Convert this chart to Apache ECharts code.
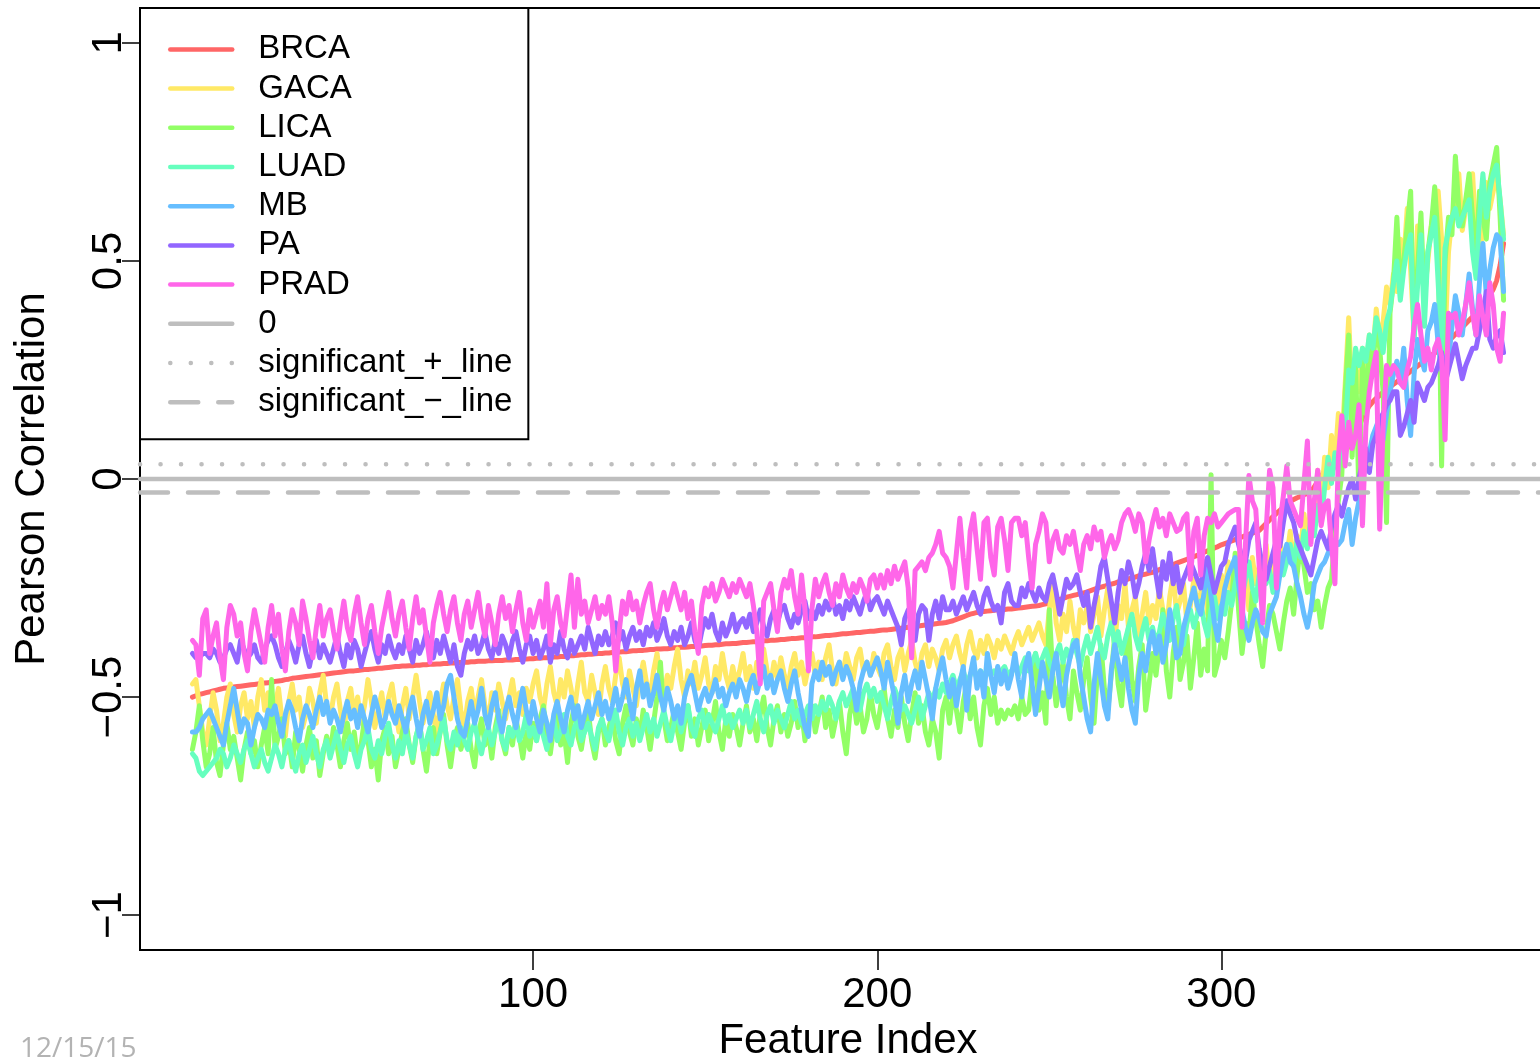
<!DOCTYPE html>
<html><head><meta charset="utf-8">
<script src="https://cdn.jsdelivr.net/npm/echarts@6/dist/echarts.min.js"></script>
<style>html,body{margin:0;padding:0;background:#fff}#c{width:1540px;height:1057px}</style>
</head><body><div id="c"></div>
<script>
const featureRange = [-14.24, 397.24];
const corrRange = [-1.08, 1.08];
const xTickValues = [100, 200, 300];
const yTickValues = [-1, -0.5, 0, 0.5, 1];
const cancerNames = ['BRCA', 'GACA', 'LICA', 'LUAD', 'MB', 'PA', 'PRAD'];
const cancerColors = ['#FF6666', '#FFE966', '#92FF66', '#66FFBE', '#66BEFF', '#9266FF', '#FF66E9'];
const refNames = ['0', 'significant_+_line', 'significant_\u2212_line'];
const refValues = [0, 0.034, -0.031];

const BRCA = [
-0.500,-0.497,-0.494,-0.492,-0.490,-0.488,-0.486,-0.484,-0.482,-0.480,-0.479,-0.478,-0.477,-0.476,-0.475,-0.474,-0.473,-0.472,-0.471,-0.470,
-0.469,-0.468,-0.467,-0.466,-0.464,-0.463,-0.462,-0.460,-0.459,-0.457,-0.456,-0.455,-0.454,-0.453,-0.452,-0.451,-0.450,-0.449,-0.448,-0.447,
-0.446,-0.445,-0.444,-0.443,-0.442,-0.441,-0.440,-0.440,-0.439,-0.438,-0.437,-0.437,-0.436,-0.435,-0.434,-0.434,-0.433,-0.432,-0.431,-0.430,
-0.430,-0.429,-0.429,-0.428,-0.428,-0.427,-0.427,-0.426,-0.426,-0.425,-0.425,-0.424,-0.424,-0.423,-0.423,-0.422,-0.422,-0.421,-0.421,-0.420,
-0.420,-0.419,-0.419,-0.418,-0.418,-0.418,-0.417,-0.417,-0.416,-0.416,-0.416,-0.415,-0.415,-0.415,-0.414,-0.414,-0.413,-0.413,-0.412,-0.412,
-0.411,-0.411,-0.410,-0.410,-0.409,-0.408,-0.408,-0.407,-0.407,-0.406,-0.405,-0.405,-0.404,-0.403,-0.403,-0.402,-0.402,-0.401,-0.400,-0.400,
-0.399,-0.399,-0.398,-0.397,-0.397,-0.396,-0.396,-0.395,-0.394,-0.394,-0.393,-0.393,-0.392,-0.391,-0.391,-0.390,-0.390,-0.389,-0.389,-0.388,
-0.387,-0.387,-0.386,-0.386,-0.385,-0.384,-0.384,-0.383,-0.383,-0.382,-0.381,-0.381,-0.380,-0.380,-0.379,-0.378,-0.378,-0.377,-0.377,-0.376,
-0.375,-0.375,-0.374,-0.373,-0.373,-0.372,-0.371,-0.371,-0.370,-0.370,-0.369,-0.368,-0.368,-0.367,-0.366,-0.366,-0.365,-0.364,-0.364,-0.363,
-0.362,-0.362,-0.361,-0.360,-0.359,-0.359,-0.358,-0.357,-0.356,-0.355,-0.355,-0.354,-0.353,-0.352,-0.352,-0.351,-0.350,-0.349,-0.349,-0.348,
-0.347,-0.346,-0.346,-0.345,-0.344,-0.343,-0.342,-0.341,-0.340,-0.339,-0.338,-0.337,-0.336,-0.335,-0.334,-0.333,-0.332,-0.331,-0.330,-0.329,
-0.327,-0.325,-0.322,-0.319,-0.316,-0.313,-0.310,-0.308,-0.306,-0.305,-0.304,-0.303,-0.302,-0.301,-0.300,-0.300,-0.299,-0.298,-0.298,-0.297,
-0.296,-0.295,-0.294,-0.293,-0.292,-0.291,-0.290,-0.288,-0.286,-0.284,-0.281,-0.279,-0.276,-0.274,-0.271,-0.269,-0.267,-0.265,-0.263,-0.261,
-0.259,-0.256,-0.253,-0.250,-0.248,-0.246,-0.243,-0.241,-0.239,-0.236,-0.234,-0.232,-0.229,-0.227,-0.225,-0.222,-0.220,-0.218,-0.216,-0.214,
-0.211,-0.208,-0.205,-0.202,-0.199,-0.196,-0.193,-0.190,-0.187,-0.184,-0.181,-0.178,-0.175,-0.172,-0.168,-0.165,-0.162,-0.158,-0.155,-0.151,
-0.148,-0.145,-0.142,-0.139,-0.136,-0.133,-0.130,-0.127,-0.124,-0.121,-0.118,-0.110,-0.102,-0.094,-0.086,-0.079,-0.072,-0.065,-0.058,-0.051,
-0.047,-0.043,-0.040,-0.036,-0.033,-0.030,-0.018,-0.006,0.006,0.018,0.028,0.036,0.042,0.050,0.058,0.066,0.074,0.085,0.100,0.120,
0.140,0.155,0.168,0.177,0.185,0.192,0.199,0.205,0.211,0.217,0.223,0.229,0.235,0.241,0.247,0.253,0.259,0.265,0.271,0.277,
0.283,0.289,0.295,0.301,0.308,0.316,0.324,0.332,0.340,0.348,0.356,0.364,0.372,0.381,0.390,0.400,0.410,0.421,0.435,0.455,0.490,0.540
];

const GACA = [
-0.47,-0.46,-0.52,-0.58,-0.61,-0.55,-0.49,-0.53,-0.60,-0.56,-0.50,-0.47,-0.54,-0.58,-0.52,-0.49,-0.55,-0.51,-0.57,-0.50,
-0.46,-0.53,-0.49,-0.56,-0.52,-0.48,-0.55,-0.59,-0.51,-0.47,-0.53,-0.50,-0.57,-0.54,-0.48,-0.51,-0.56,-0.49,-0.45,-0.52,
-0.55,-0.50,-0.47,-0.53,-0.58,-0.51,-0.48,-0.54,-0.50,-0.56,-0.52,-0.46,-0.51,-0.57,-0.53,-0.49,-0.55,-0.50,-0.47,-0.53,
-0.58,-0.52,-0.48,-0.55,-0.50,-0.45,-0.51,-0.56,-0.52,-0.49,-0.54,-0.59,-0.51,-0.47,-0.52,-0.55,-0.50,-0.46,-0.53,-0.57,
-0.51,-0.48,-0.54,-0.50,-0.46,-0.52,-0.56,-0.49,-0.53,-0.47,-0.51,-0.55,-0.50,-0.46,-0.52,-0.49,-0.54,-0.48,-0.51,-0.47,
-0.44,-0.50,-0.53,-0.47,-0.43,-0.49,-0.52,-0.46,-0.50,-0.44,-0.48,-0.53,-0.47,-0.42,-0.49,-0.51,-0.45,-0.49,-0.54,-0.47,
-0.43,-0.48,-0.51,-0.45,-0.41,-0.47,-0.50,-0.44,-0.48,-0.52,-0.46,-0.42,-0.47,-0.50,-0.44,-0.40,-0.46,-0.49,-0.45,-0.48,
-0.43,-0.39,-0.46,-0.50,-0.44,-0.47,-0.42,-0.48,-0.45,-0.41,-0.47,-0.49,-0.43,-0.46,-0.40,-0.45,-0.48,-0.43,-0.47,-0.44,
-0.40,-0.46,-0.43,-0.48,-0.42,-0.45,-0.39,-0.44,-0.47,-0.42,-0.46,-0.41,-0.45,-0.48,-0.43,-0.40,-0.45,-0.42,-0.47,-0.43,
-0.40,-0.45,-0.42,-0.46,-0.41,-0.38,-0.44,-0.47,-0.42,-0.45,-0.40,-0.43,-0.46,-0.41,-0.39,-0.44,-0.42,-0.45,-0.40,-0.43,
-0.45,-0.40,-0.38,-0.43,-0.46,-0.41,-0.39,-0.44,-0.40,-0.37,-0.42,-0.45,-0.40,-0.38,-0.43,-0.39,-0.41,-0.44,-0.39,-0.37,
-0.41,-0.38,-0.36,-0.40,-0.43,-0.38,-0.35,-0.39,-0.41,-0.37,-0.40,-0.36,-0.38,-0.41,-0.37,-0.39,-0.36,-0.38,-0.40,-0.37,
-0.35,-0.38,-0.36,-0.34,-0.37,-0.35,-0.33,-0.36,-0.38,-0.30,-0.24,-0.33,-0.37,-0.31,-0.35,-0.28,-0.34,-0.38,-0.30,-0.33,
-0.29,-0.35,-0.31,-0.27,-0.36,-0.30,-0.25,-0.33,-0.38,-0.29,-0.32,-0.24,-0.34,-0.30,-0.27,-0.36,-0.31,-0.26,-0.33,-0.29,
-0.32,-0.25,-0.30,-0.35,-0.27,-0.22,-0.31,-0.28,-0.24,-0.33,-0.29,-0.23,-0.30,-0.26,-0.21,-0.31,-0.27,-0.24,-0.30,-0.22,
-0.26,-0.19,-0.28,-0.23,-0.17,-0.27,-0.22,-0.30,-0.18,-0.24,-0.20,-0.27,-0.15,-0.23,-0.19,-0.26,-0.14,-0.21,-0.18,-0.12,
-0.20,-0.13,-0.17,-0.08,-0.15,-0.05,-0.11,0.02,-0.06,0.05,-0.02,0.10,0.04,0.15,0.08,0.22,0.37,0.18,0.25,0.20,
0.30,0.24,0.33,0.28,0.39,0.32,0.36,0.44,0.40,0.47,0.43,0.55,0.50,0.62,0.48,0.33,0.58,0.55,0.42,0.50,
0.58,0.63,0.66,0.55,0.32,0.52,0.60,0.64,0.70,0.57,0.62,0.66,0.70,0.55,0.48,0.60,0.68,0.62,0.66,0.70,0.64,0.56
];

const LICA = [
-0.62,-0.58,-0.52,-0.60,-0.66,-0.63,-0.57,-0.65,-0.68,-0.61,-0.56,-0.62,-0.59,-0.64,-0.69,-0.62,-0.58,-0.63,-0.60,-0.66,
-0.61,-0.57,-0.63,-0.46,-0.62,-0.59,-0.55,-0.63,-0.60,-0.66,-0.58,-0.62,-0.67,-0.61,-0.57,-0.64,-0.60,-0.68,-0.63,-0.59,
-0.63,-0.57,-0.61,-0.66,-0.60,-0.56,-0.62,-0.58,-0.64,-0.61,-0.55,-0.60,-0.66,-0.62,-0.69,-0.60,-0.57,-0.63,-0.59,-0.66,
-0.62,-0.58,-0.55,-0.61,-0.65,-0.59,-0.56,-0.62,-0.67,-0.60,-0.57,-0.63,-0.58,-0.54,-0.61,-0.66,-0.60,-0.57,-0.62,-0.59,
-0.56,-0.62,-0.66,-0.59,-0.55,-0.61,-0.58,-0.64,-0.57,-0.53,-0.60,-0.63,-0.57,-0.61,-0.55,-0.59,-0.64,-0.58,-0.62,-0.56,
-0.60,-0.55,-0.52,-0.59,-0.63,-0.57,-0.54,-0.61,-0.58,-0.65,-0.56,-0.52,-0.59,-0.62,-0.57,-0.53,-0.60,-0.64,-0.58,-0.55,
-0.61,-0.57,-0.54,-0.60,-0.63,-0.56,-0.52,-0.58,-0.61,-0.55,-0.59,-0.53,-0.57,-0.62,-0.56,-0.50,-0.42,-0.55,-0.60,-0.57,
-0.53,-0.58,-0.62,-0.56,-0.52,-0.59,-0.55,-0.61,-0.57,-0.53,-0.60,-0.56,-0.51,-0.58,-0.62,-0.55,-0.59,-0.54,-0.57,-0.61,
-0.56,-0.52,-0.58,-0.55,-0.60,-0.54,-0.50,-0.57,-0.61,-0.55,-0.52,-0.58,-0.54,-0.59,-0.56,-0.51,-0.57,-0.53,-0.60,-0.55,
-0.52,-0.58,-0.54,-0.50,-0.57,-0.53,-0.59,-0.55,-0.51,-0.58,-0.63,-0.54,-0.50,-0.56,-0.52,-0.58,-0.55,-0.49,-0.54,-0.57,
-0.52,-0.48,-0.55,-0.59,-0.53,-0.57,-0.50,-0.56,-0.60,-0.54,-0.49,-0.56,-0.52,-0.58,-0.61,-0.55,-0.58,-0.64,-0.53,-0.50,
-0.56,-0.49,-0.53,-0.58,-0.51,-0.47,-0.55,-0.50,-0.57,-0.61,-0.52,-0.48,-0.54,-0.50,-0.56,-0.53,-0.55,-0.53,-0.54,-0.52,
-0.55,-0.50,-0.54,-0.53,-0.46,-0.40,-0.53,-0.49,-0.56,-0.30,-0.45,-0.52,-0.47,-0.42,-0.50,-0.55,-0.44,-0.49,-0.53,-0.46,
-0.41,-0.50,-0.56,-0.44,-0.38,-0.48,-0.53,-0.45,-0.36,-0.47,-0.52,-0.42,-0.34,-0.46,-0.51,-0.43,-0.38,-0.53,-0.47,-0.40,
-0.45,-0.38,-0.30,-0.44,-0.50,-0.40,-0.34,-0.46,-0.42,-0.36,-0.48,-0.41,-0.33,-0.45,-0.39,-0.44,0.01,-0.45,-0.42,-0.37,
-0.41,-0.35,-0.28,-0.17,-0.30,-0.40,-0.33,-0.36,-0.26,-0.32,-0.38,-0.43,-0.35,-0.29,-0.31,-0.35,-0.39,-0.33,-0.28,-0.25,
-0.31,-0.22,-0.15,-0.20,-0.26,-0.24,-0.30,-0.28,-0.34,-0.29,-0.25,-0.23,-0.12,-0.05,0.01,0.20,0.33,0.05,0.27,-0.05,
0.27,0.15,0.32,0.25,0.36,0.30,0.20,-0.10,0.38,0.45,0.60,0.43,0.50,0.58,0.66,0.32,0.48,0.61,0.40,0.52,
0.58,0.67,0.55,0.03,0.50,0.60,0.56,0.74,0.62,0.58,0.64,0.70,0.60,0.50,0.66,0.60,0.55,0.68,0.72,0.76,0.60,0.41
];

const LUAD = [
-0.63,-0.64,-0.67,-0.68,-0.67,-0.66,-0.65,-0.64,-0.62,-0.63,-0.66,-0.64,-0.61,-0.63,-0.65,-0.62,-0.60,-0.63,-0.66,-0.64,
-0.62,-0.65,-0.67,-0.64,-0.61,-0.63,-0.66,-0.62,-0.60,-0.64,-0.67,-0.63,-0.61,-0.65,-0.62,-0.59,-0.63,-0.66,-0.62,-0.60,
-0.64,-0.61,-0.58,-0.62,-0.65,-0.61,-0.59,-0.63,-0.66,-0.62,-0.60,-0.57,-0.62,-0.64,-0.60,-0.63,-0.59,-0.56,-0.61,-0.64,
-0.60,-0.63,-0.58,-0.61,-0.64,-0.59,-0.56,-0.62,-0.60,-0.57,-0.63,-0.61,-0.58,-0.55,-0.60,-0.62,-0.58,-0.61,-0.57,-0.60,
-0.62,-0.58,-0.56,-0.60,-0.63,-0.59,-0.57,-0.61,-0.58,-0.55,-0.60,-0.62,-0.57,-0.59,-0.56,-0.60,-0.58,-0.54,-0.59,-0.57,
-0.60,-0.56,-0.59,-0.62,-0.57,-0.55,-0.60,-0.58,-0.54,-0.59,-0.61,-0.57,-0.55,-0.60,-0.58,-0.56,-0.59,-0.62,-0.57,-0.55,
-0.58,-0.60,-0.56,-0.53,-0.58,-0.61,-0.57,-0.55,-0.59,-0.56,-0.60,-0.57,-0.54,-0.58,-0.55,-0.59,-0.56,-0.53,-0.57,-0.60,
-0.56,-0.54,-0.58,-0.55,-0.52,-0.57,-0.59,-0.55,-0.53,-0.57,-0.54,-0.56,-0.58,-0.55,-0.52,-0.56,-0.54,-0.57,-0.55,-0.53,
-0.56,-0.53,-0.57,-0.54,-0.51,-0.55,-0.58,-0.54,-0.52,-0.56,-0.53,-0.55,-0.57,-0.54,-0.51,-0.55,-0.53,-0.56,-0.54,-0.52,
-0.55,-0.52,-0.54,-0.51,-0.53,-0.50,-0.52,-0.55,-0.51,-0.49,-0.52,-0.50,-0.48,-0.51,-0.53,-0.49,-0.47,-0.50,-0.48,-0.51,
-0.49,-0.52,-0.55,-0.51,-0.48,-0.50,-0.53,-0.52,-0.54,-0.56,-0.53,-0.50,-0.55,-0.52,-0.49,-0.51,-0.48,-0.50,-0.47,-0.49,
-0.47,-0.45,-0.48,-0.46,-0.44,-0.47,-0.45,-0.43,-0.46,-0.44,-0.45,-0.44,-0.45,-0.44,-0.45,-0.44,-0.43,-0.45,-0.44,-0.43,
-0.45,-0.43,-0.41,-0.44,-0.42,-0.40,-0.43,-0.41,-0.39,-0.42,-0.44,-0.40,-0.38,-0.42,-0.39,-0.41,-0.37,-0.40,-0.43,-0.39,
-0.36,-0.40,-0.37,-0.34,-0.39,-0.41,-0.36,-0.33,-0.38,-0.35,-0.40,-0.37,-0.34,-0.31,-0.36,-0.39,-0.35,-0.32,-0.37,-0.34,
-0.38,-0.35,-0.31,-0.34,-0.37,-0.32,-0.29,-0.35,-0.38,-0.33,-0.30,-0.34,-0.31,-0.28,-0.33,-0.36,-0.30,-0.27,-0.32,-0.29,
-0.31,-0.26,-0.29,-0.24,-0.20,-0.27,-0.23,-0.19,-0.25,-0.28,-0.22,-0.18,-0.24,-0.21,-0.26,-0.20,-0.17,-0.22,-0.19,-0.15,
-0.20,-0.14,-0.18,-0.12,-0.16,-0.09,-0.13,-0.06,-0.10,-0.02,0.05,-0.01,0.06,0.02,0.13,0.10,0.25,0.22,0.30,0.26,
0.30,0.27,0.33,0.30,0.37,0.34,0.29,0.36,0.39,0.45,0.50,0.41,0.48,0.53,0.56,0.32,0.44,0.56,0.35,0.52,
0.56,0.60,0.45,0.29,0.53,0.57,0.60,0.62,0.58,0.60,0.62,0.64,0.52,0.46,0.60,0.70,0.60,0.66,0.70,0.72,0.64,0.55
];

const MB = [
-0.58,-0.58,-0.57,-0.55,-0.54,-0.53,-0.55,-0.57,-0.59,-0.61,-0.56,-0.52,-0.48,-0.53,-0.58,-0.55,-0.56,-0.61,-0.57,-0.54,
-0.55,-0.57,-0.53,-0.54,-0.52,-0.56,-0.59,-0.54,-0.51,-0.53,-0.57,-0.60,-0.55,-0.52,-0.54,-0.57,-0.53,-0.50,-0.54,-0.51,
-0.56,-0.53,-0.55,-0.58,-0.54,-0.51,-0.55,-0.53,-0.57,-0.52,-0.55,-0.58,-0.54,-0.50,-0.53,-0.57,-0.55,-0.51,-0.54,-0.56,
-0.52,-0.55,-0.58,-0.53,-0.50,-0.55,-0.59,-0.54,-0.51,-0.56,-0.53,-0.49,-0.55,-0.52,-0.47,-0.45,-0.50,-0.55,-0.58,-0.59,
-0.55,-0.51,-0.56,-0.53,-0.48,-0.54,-0.57,-0.52,-0.49,-0.55,-0.58,-0.53,-0.50,-0.54,-0.57,-0.52,-0.48,-0.53,-0.56,-0.51,
-0.55,-0.58,-0.53,-0.56,-0.60,-0.54,-0.51,-0.55,-0.58,-0.53,-0.50,-0.55,-0.52,-0.57,-0.54,-0.51,-0.55,-0.52,-0.49,-0.54,
-0.51,-0.55,-0.52,-0.48,-0.53,-0.50,-0.46,-0.51,-0.55,-0.48,-0.44,-0.50,-0.47,-0.52,-0.49,-0.45,-0.50,-0.53,-0.48,-0.51,
-0.55,-0.52,-0.56,-0.50,-0.47,-0.45,-0.49,-0.53,-0.50,-0.48,-0.51,-0.49,-0.46,-0.50,-0.48,-0.52,-0.49,-0.47,-0.50,-0.46,
-0.48,-0.51,-0.47,-0.45,-0.49,-0.46,-0.43,-0.48,-0.45,-0.49,-0.46,-0.44,-0.48,-0.51,-0.47,-0.44,-0.49,-0.53,-0.57,-0.59,
-0.47,-0.44,-0.46,-0.42,-0.45,-0.43,-0.47,-0.44,-0.42,-0.46,-0.43,-0.45,-0.48,-0.53,-0.47,-0.44,-0.42,-0.45,-0.43,-0.41,
-0.44,-0.48,-0.42,-0.46,-0.50,-0.56,-0.49,-0.45,-0.51,-0.47,-0.44,-0.48,-0.42,-0.46,-0.50,-0.55,-0.48,-0.44,-0.41,-0.46,
-0.50,-0.46,-0.52,-0.47,-0.43,-0.53,-0.45,-0.41,-0.48,-0.44,-0.50,-0.40,-0.45,-0.49,-0.43,-0.47,-0.44,-0.48,-0.45,-0.40,
-0.46,-0.50,-0.43,-0.40,-0.47,-0.54,-0.48,-0.42,-0.46,-0.50,-0.44,-0.40,-0.47,-0.52,-0.45,-0.41,-0.38,-0.37,-0.45,-0.50,
-0.55,-0.58,-0.47,-0.40,-0.46,-0.52,-0.55,-0.44,-0.38,-0.42,-0.46,-0.41,-0.48,-0.53,-0.56,-0.45,-0.40,-0.44,-0.38,-0.35,
-0.40,-0.36,-0.42,-0.38,-0.30,-0.35,-0.41,-0.40,-0.34,-0.31,-0.28,-0.25,-0.29,-0.31,-0.26,-0.20,-0.27,-0.33,-0.37,-0.30,
-0.25,-0.22,-0.20,-0.18,-0.24,-0.30,-0.34,-0.37,-0.33,-0.30,-0.32,-0.35,-0.36,-0.31,-0.29,-0.27,-0.22,-0.18,-0.15,-0.19,
-0.20,-0.24,-0.27,-0.31,-0.34,-0.30,-0.24,-0.22,-0.20,-0.19,-0.17,-0.16,-0.14,-0.15,-0.14,-0.10,-0.07,-0.15,-0.09,-0.05,
0.00,0.03,0.06,0.10,0.12,0.14,0.09,0.15,0.20,0.24,0.27,0.22,0.30,0.18,0.10,0.24,0.32,0.28,0.25,0.34,
0.36,0.40,0.31,0.25,0.28,0.27,0.35,0.42,0.38,0.33,0.40,0.47,0.39,0.33,0.45,0.54,0.42,0.48,0.53,0.56,0.55,0.43
];

const PA = [
-0.40,-0.41,-0.41,-0.40,-0.40,-0.41,-0.39,-0.40,-0.42,-0.41,-0.39,-0.38,-0.40,-0.42,-0.37,-0.39,-0.41,-0.40,-0.38,-0.41,
-0.42,-0.39,-0.37,-0.36,-0.38,-0.41,-0.43,-0.40,-0.37,-0.39,-0.42,-0.38,-0.36,-0.40,-0.43,-0.39,-0.37,-0.41,-0.38,-0.40,
-0.42,-0.39,-0.36,-0.40,-0.43,-0.38,-0.41,-0.37,-0.39,-0.43,-0.40,-0.37,-0.35,-0.39,-0.42,-0.38,-0.40,-0.36,-0.39,-0.41,
-0.38,-0.40,-0.36,-0.39,-0.42,-0.37,-0.40,-0.38,-0.35,-0.39,-0.41,-0.37,-0.40,-0.36,-0.39,-0.42,-0.38,-0.43,-0.45,-0.40,
-0.37,-0.39,-0.36,-0.40,-0.38,-0.35,-0.39,-0.41,-0.37,-0.40,-0.36,-0.38,-0.41,-0.37,-0.35,-0.39,-0.42,-0.38,-0.36,-0.40,
-0.37,-0.41,-0.39,-0.36,-0.42,-0.38,-0.40,-0.35,-0.39,-0.41,-0.37,-0.40,-0.38,-0.36,-0.39,-0.34,-0.37,-0.40,-0.36,-0.38,
-0.35,-0.38,-0.36,-0.33,-0.37,-0.35,-0.39,-0.36,-0.34,-0.37,-0.35,-0.38,-0.34,-0.36,-0.33,-0.37,-0.35,-0.32,-0.36,-0.38,
-0.35,-0.37,-0.34,-0.38,-0.36,-0.33,-0.37,-0.39,-0.35,-0.32,-0.34,-0.31,-0.35,-0.37,-0.33,-0.36,-0.34,-0.31,-0.35,-0.33,
-0.32,-0.34,-0.31,-0.35,-0.33,-0.30,-0.34,-0.36,-0.32,-0.30,-0.33,-0.30,-0.29,-0.32,-0.34,-0.31,-0.33,-0.30,-0.28,-0.32,
-0.30,-0.32,-0.29,-0.31,-0.28,-0.30,-0.27,-0.31,-0.29,-0.32,-0.28,-0.30,-0.27,-0.29,-0.31,-0.28,-0.26,-0.30,-0.28,-0.27,
-0.29,-0.31,-0.28,-0.30,-0.32,-0.34,-0.38,-0.32,-0.30,-0.33,-0.37,-0.31,-0.29,-0.30,-0.37,-0.31,-0.28,-0.32,-0.27,-0.30,
-0.30,-0.28,-0.31,-0.29,-0.27,-0.30,-0.28,-0.26,-0.29,-0.31,-0.27,-0.25,-0.28,-0.30,-0.29,-0.33,-0.26,-0.24,-0.28,-0.29,
-0.29,-0.25,-0.27,-0.24,-0.26,-0.28,-0.25,-0.27,-0.28,-0.24,-0.22,-0.26,-0.31,-0.27,-0.23,-0.25,-0.24,-0.22,-0.26,-0.29,
-0.26,-0.34,-0.29,-0.25,-0.20,-0.18,-0.23,-0.28,-0.33,-0.26,-0.21,-0.24,-0.19,-0.22,-0.27,-0.24,-0.20,-0.17,-0.21,-0.16,
-0.22,-0.27,-0.19,-0.23,-0.17,-0.24,-0.20,-0.26,-0.23,-0.21,-0.19,-0.21,-0.23,-0.25,-0.20,-0.18,-0.22,-0.26,-0.23,-0.20,
-0.19,-0.15,-0.13,-0.11,-0.15,-0.18,-0.19,-0.14,-0.12,-0.10,-0.16,-0.20,-0.23,-0.20,-0.17,-0.14,-0.155,-0.10,-0.05,-0.08,
-0.10,-0.14,-0.16,-0.18,-0.20,-0.22,-0.18,-0.14,-0.12,-0.14,-0.16,-0.11,-0.08,-0.06,-0.085,-0.05,-0.02,0.00,-0.046,0.00,
0.04,0.07,0.015,0.08,0.10,0.137,0.15,0.17,0.18,0.20,0.20,0.10,0.12,0.15,0.18,0.13,0.22,0.20,0.18,0.21,
0.22,0.24,0.26,0.29,0.22,0.25,0.28,0.31,0.27,0.23,0.26,0.28,0.30,0.30,0.34,0.38,0.43,0.32,0.30,0.33,0.34,0.29
];

const PRAD = [
-0.37,-0.38,-0.45,-0.32,-0.30,-0.40,-0.36,-0.33,-0.41,-0.46,-0.34,-0.29,-0.31,-0.36,-0.33,-0.40,-0.44,-0.35,-0.30,-0.34,
-0.38,-0.42,-0.34,-0.29,-0.36,-0.31,-0.39,-0.44,-0.35,-0.30,-0.33,-0.38,-0.28,-0.32,-0.37,-0.41,-0.34,-0.29,-0.36,-0.32,
-0.30,-0.35,-0.39,-0.33,-0.28,-0.34,-0.37,-0.31,-0.27,-0.33,-0.38,-0.32,-0.29,-0.35,-0.40,-0.34,-0.30,-0.26,-0.32,-0.36,
-0.31,-0.28,-0.34,-0.39,-0.32,-0.27,-0.33,-0.30,-0.36,-0.42,-0.33,-0.29,-0.26,-0.31,-0.35,-0.30,-0.27,-0.33,-0.37,-0.31,
-0.28,-0.34,-0.30,-0.26,-0.32,-0.36,-0.29,-0.33,-0.38,-0.31,-0.27,-0.32,-0.29,-0.35,-0.30,-0.26,-0.33,-0.37,-0.30,-0.34,
-0.31,-0.28,-0.34,-0.24,-0.38,-0.30,-0.27,-0.33,-0.36,-0.29,-0.22,-0.34,-0.23,-0.31,-0.28,-0.33,-0.30,-0.27,-0.32,-0.29,
-0.31,-0.27,-0.33,-0.44,-0.35,-0.28,-0.31,-0.26,-0.30,-0.28,-0.33,-0.29,-0.26,-0.24,-0.30,-0.34,-0.29,-0.26,-0.30,-0.27,
-0.24,-0.27,-0.30,-0.26,-0.32,-0.28,-0.35,-0.40,-0.29,-0.25,-0.27,-0.24,-0.28,-0.26,-0.23,-0.25,-0.27,-0.24,-0.26,-0.23,
-0.25,-0.27,-0.24,-0.29,-0.35,-0.47,-0.28,-0.26,-0.24,-0.30,-0.35,-0.26,-0.23,-0.25,-0.21,-0.27,-0.31,-0.22,-0.30,-0.44,
-0.30,-0.23,-0.27,-0.24,-0.22,-0.26,-0.29,-0.24,-0.27,-0.22,-0.25,-0.27,-0.24,-0.26,-0.23,-0.25,-0.28,-0.23,-0.22,-0.25,
-0.22,-0.25,-0.21,-0.24,-0.20,-0.23,-0.21,-0.19,-0.25,-0.41,-0.21,-0.20,-0.19,-0.21,-0.18,-0.17,-0.15,-0.12,-0.17,-0.18,
-0.20,-0.25,-0.17,-0.09,-0.18,-0.25,-0.12,-0.08,-0.16,-0.23,-0.10,-0.09,-0.18,-0.22,-0.11,-0.09,-0.14,-0.21,-0.10,-0.09,
-0.09,-0.13,-0.10,-0.18,-0.25,-0.15,-0.12,-0.08,-0.10,-0.19,-0.14,-0.12,-0.16,-0.17,-0.13,-0.15,-0.12,-0.17,-0.21,-0.15,
-0.13,-0.16,-0.11,-0.14,-0.12,-0.18,-0.15,-0.13,-0.16,-0.14,-0.10,-0.08,-0.07,-0.09,-0.12,-0.08,-0.10,-0.19,-0.14,-0.10,
-0.07,-0.11,-0.09,-0.13,-0.08,-0.10,-0.12,-0.115,-0.09,-0.08,-0.23,-0.12,-0.09,-0.22,-0.13,-0.09,-0.10,-0.08,-0.11,-0.10,
-0.09,-0.08,-0.075,-0.07,-0.07,-0.34,-0.15,0.008,-0.05,-0.07,-0.20,-0.33,-0.12,0.02,-0.02,-0.25,-0.10,-0.04,0.03,-0.05,
-0.07,-0.09,-0.107,-0.01,0.087,-0.15,-0.05,0.02,-0.107,-0.06,-0.05,-0.15,-0.24,0.05,0.145,0.03,0.13,0.07,0.10,0.17,
-0.107,0.12,0.20,0.25,0.29,-0.115,0.12,0.26,0.24,0.26,0.25,0.22,0.21,0.25,0.28,0.35,0.40,0.33,0.27,0.30,
0.25,0.30,0.32,0.28,0.09,0.38,0.37,0.38,0.33,0.36,0.40,0.45,0.38,0.33,0.42,0.37,0.33,0.45,0.40,0.30,0.27,0.38
];

const cancerValues = [BRCA, GACA, LICA, LUAD, MB, PA, PRAD];
const FONT = "'Liberation Sans', Arial, Helvetica, sans-serif";
const refStyles = [
  { type: 'solid' },
  { type: [0.1, 20.4], dashOffset: 0 },
  { type: [30, 20], dashOffset: 2 }
];

const chart = echarts.init(document.getElementById('c'), null, { renderer: 'canvas' });

const series = cancerNames.map((name, k) => ({
  name: name,
  type: 'line',
  data: cancerValues[k].map((v, i) => [i + 1, v]),
  symbol: 'none',
  showSymbol: false,
  silent: true,
  clip: true,
  color: cancerColors[k],
  lineStyle: { color: cancerColors[k], width: 5, cap: 'round', join: 'round' },
  z: 2
}));
refNames.forEach((name, k) => {
  series.push({
    name: name,
    type: 'line',
    data: [[featureRange[0], refValues[k]], [featureRange[1], refValues[k]]],
    symbol: 'none',
    showSymbol: false,
    silent: true,
    clip: true,
    color: '#BEBEBE',
    lineStyle: Object.assign({ color: '#BEBEBE', width: 4.5, cap: 'round' }, refStyles[k]),
    z: 3
  });
});

const minusFmt = v => String(v).replace('-', '\u2212');

chart.setOption({
  animation: false,
  backgroundColor: '#fff',
  grid: { left: 140, top: 8, width: 1416, height: 942, outerBoundsMode: 'none', containLabel: false,
          show: true, borderColor: '#000', borderWidth: 2, backgroundColor: 'transparent' },
  xAxis: {
    type: 'value', min: featureRange[0], max: featureRange[1],
    axisLine: { show: false, onZero: false },
    splitLine: { show: false },
    axisTick: { show: true, customValues: xTickValues, length: 20, lineStyle: { color: '#000', width: 1.5 } },
    axisLabel: { show: true, customValues: xTickValues, margin: 24, fontSize: 42, color: '#000', fontFamily: FONT },
    name: 'Feature Index', nameLocation: 'middle', nameGap: 53,
    nameTextStyle: { fontSize: 42, color: '#000', fontFamily: FONT }
  },
  yAxis: {
    type: 'value', min: corrRange[0], max: corrRange[1],
    axisLine: { show: false, onZero: false },
    splitLine: { show: false },
    axisTick: { show: true, customValues: yTickValues, length: 18, lineStyle: { color: '#000', width: 1.5 } },
    axisLabel: { show: true, customValues: yTickValues, rotate: 90, margin: 10, fontSize: 42, color: '#000', fontFamily: FONT, formatter: minusFmt },
    name: 'Pearson Correlation', nameLocation: 'middle', nameGap: 87, nameRotate: 90,
    nameTextStyle: { fontSize: 42, color: '#000', fontFamily: FONT }
  },
  legend: {
    data: cancerNames.concat(refNames),
    orient: 'vertical',
    left: 140, top: 8,
    padding: [21.8, 16, 17.4, 28],
    itemWidth: 62, itemHeight: 14, itemGap: 0,
    selectedMode: false,
    borderColor: '#000', borderWidth: 2, backgroundColor: '#fff',
    itemStyle: { opacity: 0, borderWidth: 0 },
    lineStyle: { width: 4.5, cap: 'round' },
    textStyle: { fontSize: 33, color: '#000', fontFamily: FONT, lineHeight: 39.2, padding: [0, 0, 0, 21] }
  },
  graphic: [{
    type: 'text', left: 20, top: 1035, silent: true,
    style: { text: '12/15/15', fontSize: 28, fill: '#b3b3b3', fontFamily: "'Open Sans', sans-serif" }
  }],
  series: series
});
</script>
</body></html>
